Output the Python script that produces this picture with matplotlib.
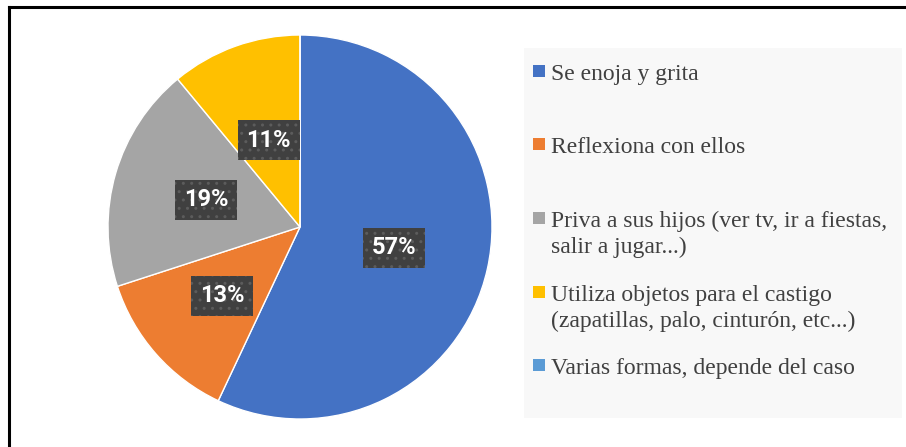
import numpy as np
import matplotlib.pyplot as plt
from matplotlib.patches import Rectangle
from matplotlib.lines import Line2D

categories = [
    "Se enoja y grita",
    "Reflexiona con ellos",
    "Priva a sus hijos (ver tv, ir a fiestas,\nsalir a jugar...)",
    "Utiliza objetos para el castigo\n(zapatillas, palo, cinturón, etc...)",
    "Varias formas, depende del caso",
]
values = [57, 13, 19, 11, 0]
colors = ["#4472C4", "#ED7D31", "#A5A5A5", "#FFC000", "#5B9BD5"]

W, H = 906, 447
fig = plt.figure(figsize=(W / 100, H / 100), dpi=100)
fig.patch.set_facecolor("white")

# pie: centre (300, 227) px, radius ~192 px
r = 192
cx, cy = 300, H - 227
ax = fig.add_axes([(cx - r) / W, (cy - r) / H, 2 * r / W, 2 * r / H])


def fmt(p):
    return f"{p:.0f}%" if p > 0.5 else ""


wedges, texts, autotexts = ax.pie(
    values, colors=colors, startangle=90, counterclock=False,
    autopct=fmt, pctdistance=0.52,
    wedgeprops=dict(edgecolor="white", linewidth=1),
    textprops=dict(color="white", fontsize=17, fontweight="bold", family="Roboto"),
)
# label distance from centre, per slice (as placed in the original)
label_dist = [0.50, 0.54, 0.51, 0.48, 0.5]
for t, d in zip(autotexts, label_dist):
    x, y = t.get_position()
    ang = np.arctan2(y, x)
    t.set_position((d * np.cos(ang), d * np.sin(ang)))
    t.set_bbox(dict(boxstyle="square,pad=0.36", facecolor="#404040",
                    edgecolor="#5c5c5c", hatch="..", linewidth=0))
ax.set_xlim(-1, 1)
ax.set_ylim(-1, 1)
ax.set_aspect("equal")
ax.axis("off")

# outer frame (only top and left edges visible)
fig.add_artist(Line2D([8.5 / W, 1.02], [1 - 6.5 / H, 1 - 6.5 / H], color="black", lw=2.2,
                      transform=fig.transFigure))
fig.add_artist(Line2D([8.5 / W, 8.5 / W], [-0.02, 1 - 6.5 / H], color="black", lw=2.2,
                      transform=fig.transFigure))

# legend box
fig.add_artist(Rectangle((524 / W, 1 - 418 / H), (902 - 524) / W, (418 - 48) / H,
                         transform=fig.transFigure, facecolor="#F8F8F8", edgecolor="none"))

baselines = [80, 153, 227, 301, 374]
line_gap = 26
for lab, col, b in zip(categories, colors, baselines):
    fig.add_artist(Rectangle((533 / W, 1 - (b - 3) / H), 12 / W, 12 / H,
                             transform=fig.transFigure, facecolor=col, edgecolor="none"))
    for i, line in enumerate(lab.split("\n")):
        fig.text(551 / W, 1 - (b + i * line_gap) / H, line, family="Liberation Serif",
                 fontsize=17, color="#404040", va="baseline", ha="left")

fig.savefig("out.png", dpi=100)
